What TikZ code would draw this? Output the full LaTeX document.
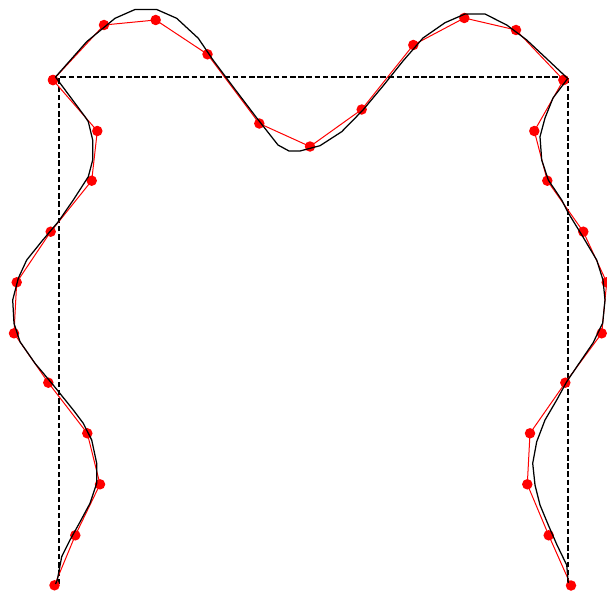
\documentclass[tikz,border=0pt]{standalone}
\begin{document}
\begin{tikzpicture}[x=1pt,y=-1pt,
  ctrl/.style={red, line width=1pt, line join=round},
  dot/.style={circle, fill=red, inner sep=0pt, minimum size=10.5pt},
  fitcurve/.style={black, line width=1.25pt, line join=round},
  frame/.style={black, line width=1.1pt, dash pattern=on 5.5pt off 2.7pt}]
\useasboundingbox (0,0) rectangle (607,594);
% red control points
\foreach \x/\y [count=\i from 0] in {53/80,104/25,155.7/20,207.5/54.3,259.3/123.5,310/146.5,361.7/109.5,413.3/45,464.3/18,516/30,563.5/80}
  {\coordinate (t\i) at (\x,\y);}
\foreach \x/\y [count=\i from 0] in {53/80,97.3/131,91.7/180.7,50.7/231.7,16.7/282.3,14/333.3,48.3/382.7,87.3/433.3,100/484.3,75.3/535.3,54.5/585.3}
  {\coordinate (l\i) at (\x,\y);}
\foreach \x/\y [count=\i from 0] in {563.5/80,534.3/131,547.3/180.7,583.3/231.7,606.7/282.3,601.7/333.3,565.3/382.7,530/433.3,527.3/484.3,548.7/535.3,571/585.5}
  {\coordinate (r\i) at (\x,\y);}
% dashed frame
\coordinate (ftl) at (59,77);
\coordinate (ftr) at (568,77);
\coordinate (fbl) at (59,584);
\coordinate (fbr) at (568,584);
\draw[frame] (fbl) -- (ftl) -- (ftr) -- (fbr);
% red polylines
\draw[ctrl] (t0) \foreach \i in {1,...,10}{ -- (t\i)};
\draw[ctrl] (l0) \foreach \i in {1,...,10}{ -- (l\i)};
\draw[ctrl] (r0) \foreach \i in {1,...,10}{ -- (r\i)};
% red dots
\foreach \s in {t,l,r}{
  \foreach \i in {0,...,10}{\node[dot] (d\s\i) at (\s\i) {};}
}
% black fitted curves
\draw[fitcurve] (55.5,77) -- (86.7,41.7) -- (115,18.3) -- (135,9.5) -- (156.7,9.5) -- (176.7,18.3) -- (198.3,38.3) -- (213,60) -- (234,88) -- (256,117) -- (278,145) -- (289,151) -- (300,151) -- (320,145.7) -- (341.7,131.7) -- (363,110) -- (383,86) -- (403,61) -- (423,38) -- (445,22.7) -- (465,14) -- (485,14) -- (506.7,25) -- (526.7,40) -- (547,59) -- (567.7,78.5);
\draw[fitcurve] (55.5,77) -- (85,116.7) -- (88.3,121.7) -- (92.7,140) -- (92.7,160) -- (88.3,176.7) -- (73.3,200) -- (58.3,221.7) -- (42,241) -- (26.7,260) -- (18.3,278.3) -- (12.7,300) -- (14,323.3) -- (20,341.7) -- (35,363.3) -- (54,386) -- (73.3,410) -- (83.3,423.3) -- (91.7,440) -- (96.7,463.3) -- (96.7,483.3) -- (90,503.3) -- (80,522) -- (70,540) -- (61.7,556.7) -- (57.3,580) -- (55.5,584);
\draw[fitcurve] (567.7,78.5) -- (553,98) -- (545,118) -- (540,136.7) -- (541.7,160) -- (548.3,180) -- (561.7,200) -- (568.3,213) -- (583,237) -- (596.7,260) -- (603,280) -- (605,300) -- (602.7,323) -- (593,343) -- (580,362) -- (566.7,381.7) -- (556.7,400) -- (545,420) -- (536.7,441.7) -- (532.7,463.3) -- (535,485) -- (540,505) -- (548.3,525) -- (557,545) -- (566.7,565) -- (568.3,583);
\end{tikzpicture}
\end{document}
